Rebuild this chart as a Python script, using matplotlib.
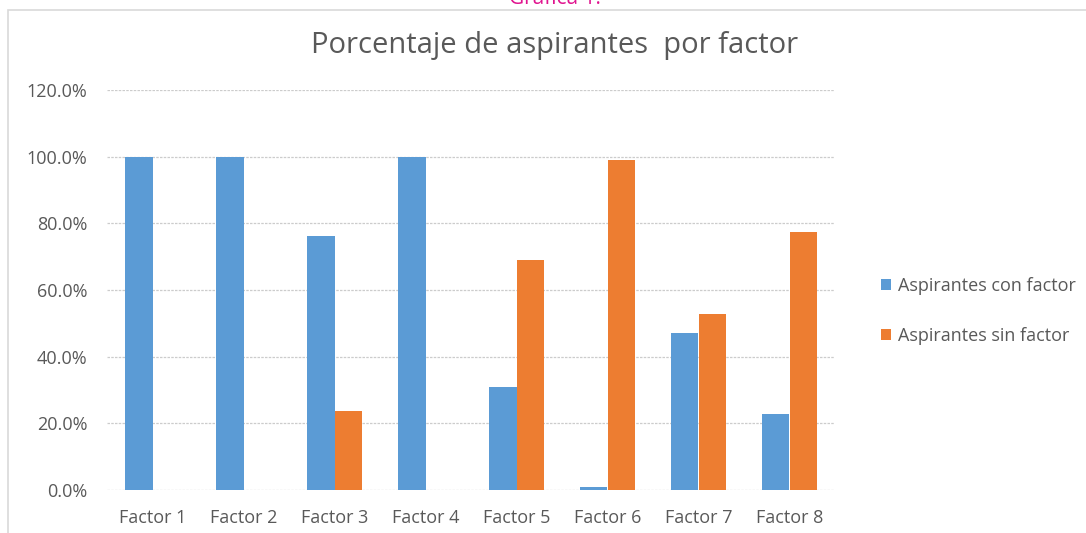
import numpy as np
import matplotlib.pyplot as plt
from matplotlib.patches import Rectangle
from matplotlib.ticker import PercentFormatter

factores = ['Factor 1', 'Factor 2', 'Factor 3', 'Factor 4',
            'Factor 5', 'Factor 6', 'Factor 7', 'Factor 8']
con_factor = [100.0, 100.0, 76.3, 100.0, 31.0, 1.0, 47.2, 22.7]
sin_factor = [0.0, 0.0, 23.7, 0.0, 69.0, 99.0, 52.8, 77.3]
series_names = ['Aspirantes con factor', 'Aspirantes sin factor']
yticks = [0, 20, 40, 60, 80, 100, 120]

BLUE = '#5B9BD5'
ORANGE = '#ED7D31'
GRAY = '#595959'

plt.rcParams['font.family'] = ['Open Sans', 'DejaVu Sans']

fig = plt.figure(figsize=(10.86, 5.33), dpi=100)

# chart frame, cut by the image edges like the screenshot
fig.patches.append(Rectangle((8 / 1086, -0.1), 1.5, 1.0 - 10 / 533 + 0.1,
                             transform=fig.transFigure, fill=False,
                             edgecolor='#D9D9D9', linewidth=1.2))
fig.text(555 / 1086, 1 - 4 / 533, 'Gráfica 1.', color='#E0148F',
         fontsize=15, ha='center', va='baseline')

fig.text(555 / 1086, 1 - 46 / 533, 'Porcentaje de aspirantes  por factor',
         color=GRAY, fontsize=21, ha='center', va='center')

ax = fig.add_axes([107 / 1086, 1 - 490 / 533, 728 / 1086, 400 / 533])

x = np.arange(len(factores))
w = 0.3
ax.bar(x - w / 2, con_factor, w, color=BLUE, label=series_names[0], zorder=3)
ax.bar(x + w / 2, sin_factor, w, color=ORANGE, label=series_names[1], zorder=3)

ax.set_xlim(-0.5, len(factores) - 0.5)
ax.set_ylim(0, 120)
ax.set_yticks(yticks)
ax.yaxis.set_major_formatter(PercentFormatter(decimals=1))
ax.set_xticks(x)
ax.set_xticklabels(factores)
ax.grid(axis='y', color='#CCCCCC', linewidth=0.9, linestyle=(0, (2, 1)), zorder=0)
ax.tick_params(length=0, colors=GRAY, labelsize=13)
ax.tick_params(axis='y', pad=14)
ax.tick_params(axis='x', pad=14)
for s in ax.spines.values():
    s.set_visible(False)

fig.legend(loc='center left', bbox_to_anchor=(865 / 1086, 1 - 311 / 533),
           frameon=False, fontsize=13, labelcolor=GRAY, handlelength=0.55,
           handleheight=0.55, handletextpad=0.4, labelspacing=1.75)

fig.savefig('out.png', dpi=100)
